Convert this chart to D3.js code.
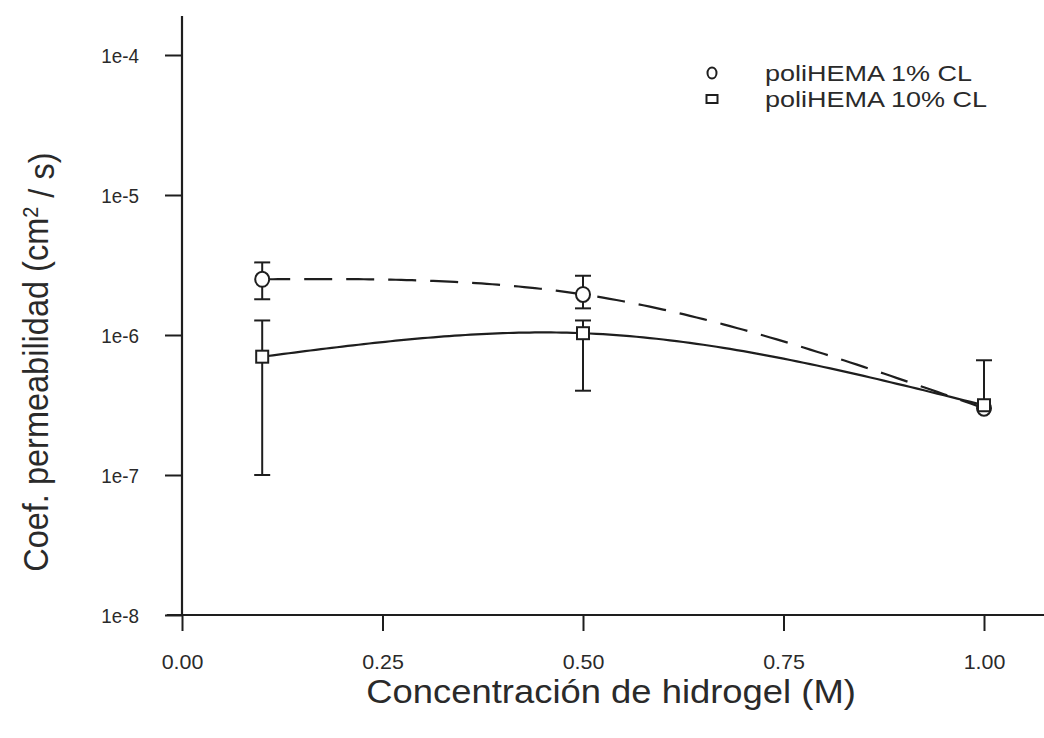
<!DOCTYPE html>
<html>
<head>
<meta charset="utf-8">
<script src="https://cdn.jsdelivr.net/npm/d3@7"></script>
<style>
  html, body { margin: 0; padding: 0; background: #fff; }
  svg { display: block; font-family: "Liberation Sans", Arial, sans-serif; }
</style>
</head>
<body>
<svg id="chart" width="1044" height="738"></svg>
<script>
// ---- data ----
const concentrations = [0.1, 0.5, 1.0];
const seriesNames = ["poliHEMA 1% CL", "poliHEMA 10% CL"];
const perm1 = [2.5e-6, 1.95e-6, 3.0e-7];
const perm1Upper = [3.3e-6, 2.65e-6, null];
const perm1Lower = [1.8e-6, 1.55e-6, null];
const perm10 = [7.0e-7, 1.03e-6, 3.15e-7];
const perm10Upper = [1.27e-6, 1.27e-6, 6.6e-7];
const perm10Lower = [1.0e-7, 4.0e-7, null];
const xTickValues = [0, 0.25, 0.5, 0.75, 1.0];
const xTickLabels = ["0.00", "0.25", "0.50", "0.75", "1.00"];
const yTickValues = [1e-8, 1e-7, 1e-6, 1e-5, 1e-4];
const yTickLabels = ["1e-8", "1e-7", "1e-6", "1e-5", "1e-4"];
const xTitle = "Concentración de hidrogel (M)";

// ---- layout ----
const svg = d3.select("#chart");
const ink = "#1e1e1e";
const txt = "#2a2a2a";
const x = d3.scaleLinear().domain([0, 1]).range([182, 984]);
const y = d3.scaleLog().domain([1e-8, 1e-4]).range([615, 55]);
const yTopVal = 1.9e-4;

const series = [
  { name: seriesNames[0], vals: perm1, up: perm1Upper, lo: perm1Lower, marker: "circle", dash: "28,14" },
  { name: seriesNames[1], vals: perm10, up: perm10Upper, lo: perm10Lower, marker: "square", dash: null }
];

// ---- axes ----
const xAxisG = svg.append("g").attr("transform", `translate(0,${y(1e-8)})`)
  .call(d3.axisBottom(x).tickValues(xTickValues).tickSize(16)
    .tickFormat((d, i) => xTickLabels[i]));
xAxisG.select(".domain").remove();
xAxisG.append("line").attr("x1", x(-0.019)).attr("x2", x(1.08))
  .attr("stroke", ink).attr("stroke-width", 2.2);
xAxisG.selectAll(".tick line").attr("stroke", ink).attr("stroke-width", 2);
xAxisG.selectAll(".tick text")
  .attr("y", 0).attr("dy", 0)
  .attr("transform", `translate(0,54) scale(1.02,1)`)
  .attr("fill", txt).style("font-size", "21px");

const yAxisG = svg.append("g").attr("transform", `translate(${x(0)},0)`)
  .call(d3.axisLeft(y).tickValues(yTickValues).tickSize(17)
    .tickFormat((d, i) => yTickLabels[i]));
yAxisG.select(".domain").remove();
yAxisG.append("line").attr("y1", y(1e-8)).attr("y2", y(yTopVal))
  .attr("stroke", ink).attr("stroke-width", 2.2);
yAxisG.selectAll(".tick line").attr("stroke", ink).attr("stroke-width", 2);
yAxisG.selectAll(".tick text")
  .attr("x", 0).attr("dy", "0.36em")
  .attr("transform", `translate(-43,0) scale(0.92,1)`)
  .attr("fill", txt).style("font-size", "20.5px");

// ---- titles ----
svg.append("text")
  .attr("transform", `translate(${x(0.535)},703) scale(1.12,1)`)
  .attr("text-anchor", "middle").attr("fill", txt)
  .style("font-size", "32.5px").text(xTitle);

const yt = svg.append("text")
  .attr("transform", `translate(48,${y(6.4e-7)}) scale(1.1,1) rotate(-90)`)
  .attr("text-anchor", "middle").attr("fill", txt)
  .style("font-size", "32.5px");
yt.append("tspan").text("Coef. permeabilidad (cm");
yt.append("tspan").attr("dy", "-0.45em").style("font-size", "20px").text("2");
yt.append("tspan").attr("dy", "0.45em").text(" / s)");

// ---- lines: natural cubic spline of pixel y as a function of pixel x ----
function naturalSpline(pts) {
  const n = pts.length;
  const xs = pts.map(p => p[0]), ys = pts.map(p => p[1]);
  const h = [], M = new Array(n).fill(0);
  for (let i = 0; i < n - 1; i++) h.push(xs[i + 1] - xs[i]);
  if (n > 2) {
    const a = [], b = [], c = [], r = [];
    for (let i = 1; i < n - 1; i++) {
      a.push(h[i - 1]); b.push(2 * (h[i - 1] + h[i])); c.push(h[i]);
      r.push(6 * ((ys[i + 1] - ys[i]) / h[i] - (ys[i] - ys[i - 1]) / h[i - 1]));
    }
    const m = b.length;
    for (let i = 1; i < m; i++) {
      const w = a[i] / b[i - 1];
      b[i] -= w * c[i - 1]; r[i] -= w * r[i - 1];
    }
    const sol = new Array(m);
    sol[m - 1] = r[m - 1] / b[m - 1];
    for (let i = m - 2; i >= 0; i--) sol[i] = (r[i] - c[i] * sol[i + 1]) / b[i];
    for (let i = 0; i < m; i++) M[i + 1] = sol[i];
  }
  const out = [];
  for (let i = 0; i < n - 1; i++) {
    const steps = 60;
    for (let k = (i === 0 ? 0 : 1); k <= steps; k++) {
      const xv = xs[i] + h[i] * k / steps;
      const A = (xs[i + 1] - xv) / h[i], B = (xv - xs[i]) / h[i];
      const yv = A * ys[i] + B * ys[i + 1] +
        ((A * A * A - A) * M[i] + (B * B * B - B) * M[i + 1]) * h[i] * h[i] / 6;
      out.push([xv, yv]);
    }
  }
  return out;
}
const line = d3.line();
series.forEach(s => {
  const pts = concentrations.map((c, i) => [x(c), y(s.vals[i])]);
  svg.append("path")
    .attr("d", line(naturalSpline(pts))).attr("fill", "none")
    .attr("stroke", ink).attr("stroke-width", 2.2)
    .attr("stroke-dasharray", s.dash);
});

// ---- error bars ----
const capW = 16;
series.forEach(s => {
  concentrations.forEach((c, i) => {
    if (s.up[i] == null && s.lo[i] == null) return;
    const cx = x(c);
    const top = s.up[i] != null ? s.up[i] : s.vals[i];
    const bot = s.lo[i] != null ? s.lo[i] : s.vals[i];
    svg.append("line").attr("x1", cx).attr("x2", cx)
      .attr("y1", y(top)).attr("y2", y(bot))
      .attr("stroke", ink).attr("stroke-width", 2);
    [s.up[i], s.lo[i]].forEach(v => {
      if (v == null) return;
      svg.append("line").attr("x1", cx - capW / 2).attr("x2", cx + capW / 2)
        .attr("y1", y(v)).attr("y2", y(v))
        .attr("stroke", ink).attr("stroke-width", 2);
    });
  });
});

// ---- markers ----
function drawMarker(g, type, cx, cy, w, h) {
  if (type === "circle") {
    g.append("ellipse").attr("cx", cx).attr("cy", cy)
      .attr("rx", w / 2).attr("ry", h / 2)
      .attr("fill", "#fff").attr("stroke", ink).attr("stroke-width", 2);
  } else {
    g.append("rect").attr("x", cx - w / 2).attr("y", cy - h / 2)
      .attr("width", w).attr("height", h)
      .attr("fill", "#fff").attr("stroke", ink).attr("stroke-width", 2);
  }
}
const mk = svg.append("g");
series.forEach(s => {
  concentrations.forEach((c, i) => {
    if (s.marker === "circle") drawMarker(mk, "circle", x(c), y(s.vals[i]), 14, 15);
    else drawMarker(mk, "square", x(c), y(s.vals[i]), 12, 12);
  });
});

// ---- legend ----
const leg = svg.append("g");
series.forEach((s, i) => {
  const ly = 73 + i * 26;
  if (s.marker === "circle") drawMarker(leg, "circle", 712, ly, 9, 11);
  else drawMarker(leg, "square", 712, ly, 11, 8);
  leg.append("text")
    .attr("transform", `translate(765,${ly + 8}) scale(1.2,1)`)
    .attr("fill", txt).style("font-size", "22.5px").text(s.name);
});
</script>
</body>
</html>
